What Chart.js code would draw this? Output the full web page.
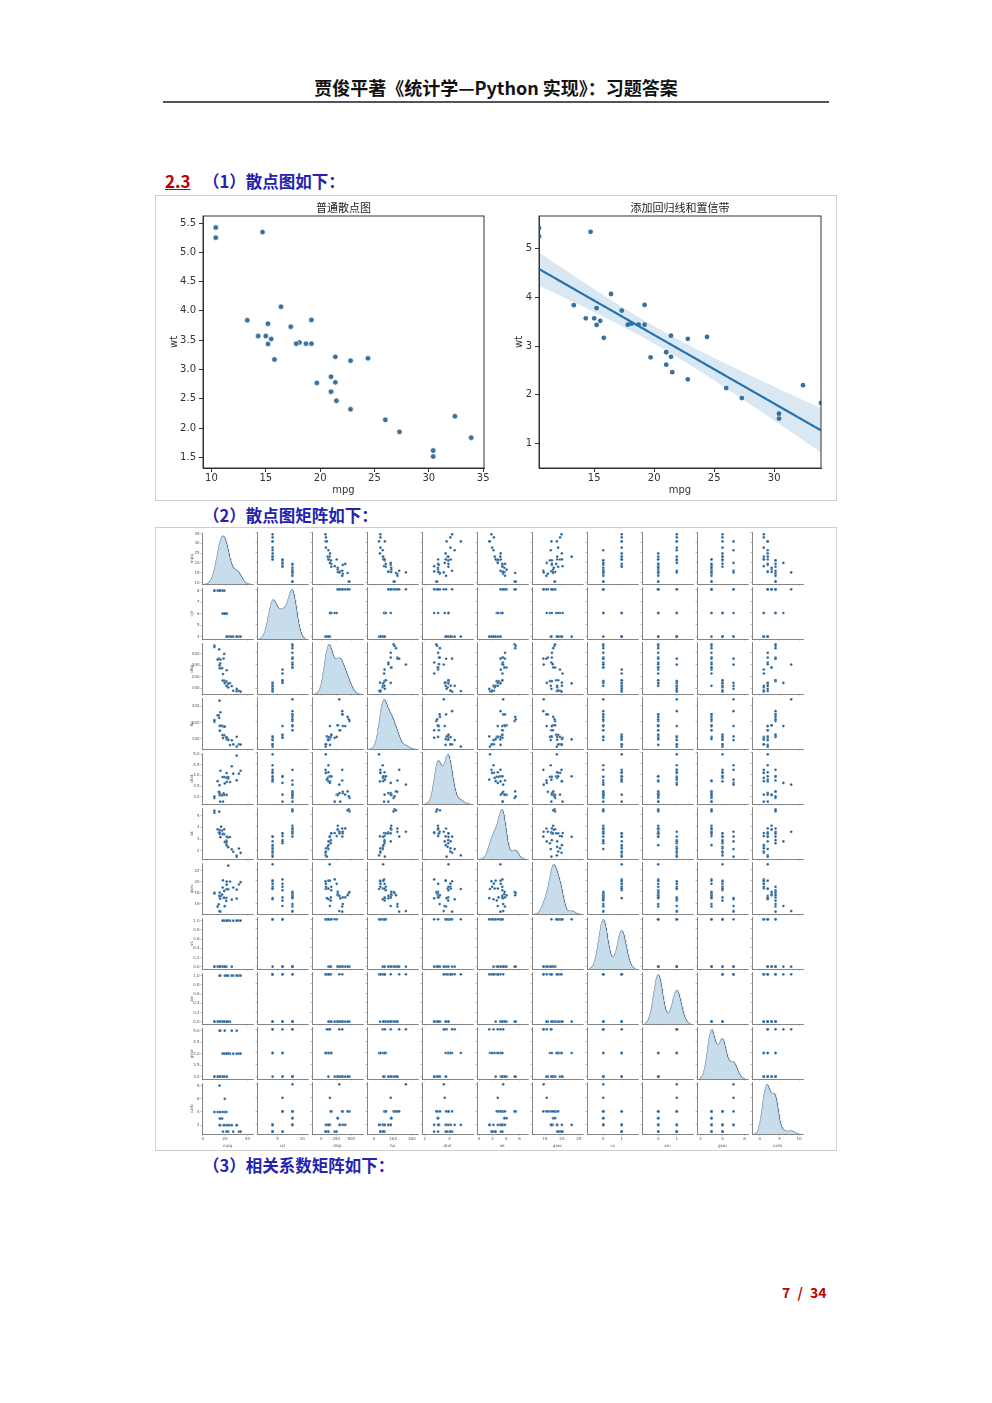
<!DOCTYPE html>
<html><head><meta charset="utf-8">
<script src="https://cdn.jsdelivr.net/npm/chart.js@4.4.0/dist/chart.umd.min.js"></script>
<style>
body{margin:0;background:#fff;}
#page{position:relative;width:992px;height:1403px;background:#fff;overflow:hidden;font-family:"Noto Sans CJK SC","Noto Sans",sans-serif;}
.t{position:absolute;white-space:nowrap;}
canvas{position:absolute;}
.box{position:absolute;border:1px solid #cfcfcf;box-sizing:border-box;}
</style></head><body><div id="page">
<div class="t" style="left:0;width:992px;top:75px;line-height:24px;text-align:center;font-weight:bold;font-size:18px;color:#111;">贾俊平著《统计学—Python 实现》：习题答案</div>
<div class="t" style="left:163px;top:101px;width:666px;height:2px;background:#555;"></div>
<div class="t" style="left:165px;top:169px;line-height:24px;font-weight:bold;font-size:17px;color:#c00000;text-decoration:underline;">2.3</div>
<div class="t" style="left:203px;top:169px;line-height:24px;font-weight:bold;font-size:16.5px;color:#2323b0;">（1）散点图如下：</div>
<div class="box" style="left:155px;top:195px;width:682px;height:306px;"></div>
<div class="t" style="left:203px;top:503px;line-height:24px;font-weight:bold;font-size:16.5px;color:#2323b0;">（2）散点图矩阵如下：</div>
<div class="box" style="left:155px;top:527px;width:682px;height:624px;"></div>
<div class="t" style="left:203px;top:1153px;line-height:24px;font-weight:bold;font-size:16.5px;color:#2323b0;">（3）相关系数矩阵如下：</div>
<div class="t" style="left:782px;top:1282px;line-height:20px;font-weight:bold;font-size:14px;color:#c00000;word-spacing:4px;">7 / 34</div>
</div>
<script>
// ---- mtcars data ----
const mpg=[21,21,22.8,21.4,18.7,18.1,14.3,24.4,22.8,19.2,17.8,16.4,17.3,15.2,10.4,10.4,14.7,32.4,30.4,33.9,21.5,15.5,15.2,13.3,19.2,27.3,26,30.4,15.8,19.7,15,21.4];
const cyl=[6,6,4,6,8,6,8,4,4,6,6,8,8,8,8,8,8,4,4,4,4,8,8,8,8,4,4,4,8,6,8,4];
const disp=[160,160,108,258,360,225,360,146.7,140.8,167.6,167.6,275.8,275.8,275.8,472,460,440,78.7,75.7,71.1,120.1,318,304,350,400,79,120.3,95.1,351,145,301,121];
const hp=[110,110,93,110,175,105,245,62,95,123,123,180,180,180,205,215,230,66,52,65,97,150,150,245,175,66,91,113,264,175,335,109];
const drat=[3.9,3.9,3.85,3.08,3.15,2.76,3.21,3.69,3.92,3.92,3.92,3.07,3.07,3.07,2.93,3,3.23,4.08,4.93,4.22,3.7,2.76,3.15,3.73,3.08,4.08,4.43,3.77,4.22,3.62,3.54,4.11];
const wt=[2.62,2.875,2.32,3.215,3.44,3.46,3.57,3.19,3.15,3.44,3.44,4.07,3.73,3.78,5.25,5.424,5.345,2.2,1.615,1.835,2.465,3.52,3.435,3.84,3.845,1.935,2.14,1.513,3.17,2.77,3.57,2.78];
const qsec=[16.46,17.02,18.61,19.44,17.02,20.22,15.84,20,22.9,18.3,18.9,17.4,17.6,18,17.98,17.82,17.42,19.47,18.52,19.9,20.01,16.87,17.3,15.41,17.05,18.9,16.7,16.9,14.5,15.5,14.6,18.6];
const vs=[0,0,1,1,0,1,0,1,1,1,1,0,0,0,0,0,0,1,1,1,1,0,0,0,0,1,0,1,0,0,0,1];
const am=[1,1,1,0,0,0,0,0,0,0,0,0,0,0,0,0,0,1,1,1,0,0,0,0,0,1,1,1,1,1,1,1];
const gear=[4,4,4,3,3,3,3,4,4,4,4,3,3,3,3,3,3,4,4,4,3,3,3,3,3,4,5,5,5,5,5,4];
const carb=[4,4,1,1,2,1,4,2,2,4,4,3,3,3,4,4,4,1,2,1,1,2,2,4,2,1,2,2,4,6,8,2];

const varNames=['mpg','cyl','disp','hp','drat','wt','qsec','vs','am','gear','carb'];
const rowTicks=[[10,15,20,25,30,35],[4,5,6,7,8],[100,200,300,400],[100,200,300],[3,3.5,4,4.5,5],[2,3,4,5],[16,18,20,22],[0,0.2,0.4,0.6,0.8,1],[0,0.2,0.4,0.6,0.8,1],[3,3.5,4,4.5,5],[2,4,6,8]];
const rowTickDecimals=[0,0,0,0,1,0,0,1,1,1,0];
const colTicks=[[0,20,40],[5,10],[0,250,500],[0,200,400],[2,4],[0,2,4,6],[15,20,25],[0,1],[0,1],[2,4,6],[0,5,10]];

const titleA='普通散点图';
const titleB='添加回归线和置信带';
const scatterXTicks=[10,15,20,25,30,35];
const scatterYTicks=[1.5,2,2.5,3,3.5,4,4.5,5,5.5];
const regXTicks=[15,20,25,30];
const regYTicks=[1,2,3,4,5];
const regYRange=[0.5,5.67];

// ---- helpers ----
Chart.defaults.font.family='"DejaVu Sans","Noto Sans",sans-serif';
Chart.defaults.animation=false;
const page=document.getElementById('page');
function mkCanvas(left,top,w,h){const c=document.createElement('canvas');c.width=w;c.height=h;c.style.left=left+'px';c.style.top=top+'px';c.style.width=w+'px';c.style.height=h+'px';page.appendChild(c);return c;}
const frame={id:'frame',afterDatasetsDraw(ch,a,o){if(!o.on)return;const {ctx,chartArea:ca}=ch;ctx.save();ctx.strokeStyle=o.color;ctx.lineWidth=o.width;ctx.strokeRect(ca.left,ca.top,ca.right-ca.left,ca.bottom-ca.top);ctx.restore();}};
Chart.register(frame);
function stats(a){const n=a.length,m=a.reduce((s,v)=>s+v,0)/n;const sd=Math.sqrt(a.reduce((s,v)=>s+(v-m)*(v-m),0)/(n-1));return {n,m,sd,min:Math.min(...a),max:Math.max(...a)};}
function kde(a){const s=stats(a);const bw=s.sd*Math.pow(s.n,-0.2);const lo=s.min-3*bw,hi=s.max+3*bw;const pts=[];let peak=0;
 for(let k=0;k<200;k++){const x=lo+(hi-lo)*k/199;let y=0;for(const v of a){const z=(x-v)/bw;y+=Math.exp(-0.5*z*z);}y/=s.n*bw*Math.sqrt(2*Math.PI);if(y>peak)peak=y;pts.push({x,y});}
 return {pts,lo,hi,peak};}
const withMargin=(lo,hi)=>{const r=hi-lo;return [lo-0.05*r,hi+0.05*r];};
// invisible right-hand spacer axis so that the title centres over the plot area
const spacer=w=>({type:'linear',position:'right',display:true,min:0,max:1,afterFit:s=>{s.width=w;},ticks:{display:false},grid:{display:false},border:{display:false}});

// ---- Figure 1a: plain scatter ----
(function(){
 const s1=stats(mpg),s2=stats(wt);
 const xr=withMargin(s1.min,s1.max),yr=withMargin(s2.min,s2.max);
 const L=45,W=281,H=252,TH=19,B=32;
 const c=mkCanvas(203-L,216-TH,W+2*L,TH+H+B);
 new Chart(c,{type:'scatter',data:{datasets:[{data:mpg.map((v,k)=>({x:v,y:wt[k]})),backgroundColor:'#36709e',borderColor:'#ffffff',borderWidth:0.6,pointRadius:2.7}]},
 options:{responsive:false,layout:{autoPadding:false,padding:0},
  plugins:{legend:{display:false},tooltip:{enabled:false},title:{display:true,text:titleA,color:'#222',font:{size:11,weight:'normal',family:'"Noto Sans CJK SC",sans-serif'},padding:{top:3.8,bottom:2}},frame:{on:true,color:'#333',width:1}},
  scales:{
   x:{type:'linear',min:xr[0],max:xr[1],afterBuildTicks:s=>{s.ticks=scatterXTicks.map(v=>({value:v}));},afterFit:s=>{s.height=B;},
      ticks:{color:'#333',font:{size:10},padding:0,maxRotation:0,autoSkip:false,callback:v=>String(v)},
      grid:{drawOnChartArea:false,drawTicks:true,tickLength:4,color:'#333'},border:{color:'#333'},
      title:{display:true,text:'mpg',color:'#333',font:{size:10},padding:{top:0,bottom:4}}},
   y:{type:'linear',min:yr[0],max:yr[1],afterBuildTicks:s=>{s.ticks=scatterYTicks.map(v=>({value:v}));},afterFit:s=>{s.width=L;},
      ticks:{color:'#333',font:{size:10},padding:3,autoSkip:false,callback:v=>v.toFixed(1)},
      grid:{drawOnChartArea:false,drawTicks:true,tickLength:4,color:'#333'},border:{color:'#333'},
      title:{display:true,text:'wt',color:'#333',font:{size:10},padding:{top:10,bottom:0}}},
   yr:spacer(L)}}});
})();

// ---- Figure 1b: regression line + CI band ----
(function(){
 const s1=stats(mpg),s2=stats(wt),n=s1.n;
 let sxy=0,sxx=0;for(let k=0;k<n;k++){sxy+=(mpg[k]-s1.m)*(wt[k]-s2.m);sxx+=(mpg[k]-s1.m)**2;}
 const b=sxy/sxx,a=s2.m-b*s1.m;
 let sse=0;for(let k=0;k<n;k++){sse+=(wt[k]-a-b*mpg[k])**2;}
 const se=Math.sqrt(sse/(n-2)),tq=2.042;
 const line=[],lo=[],hi=[];
 for(let k=0;k<100;k++){const x=s1.min+(s1.max-s1.min)*k/99;const y=a+b*x;const h=tq*se*Math.sqrt(1/n+(x-s1.m)**2/sxx);line.push({x,y});lo.push({x,y:y-h});hi.push({x,y:y+h});}
 const L=45,W=282,H=252,TH=19,B=32;
 const c=mkCanvas(539-L,216-TH,W+2*L,TH+H+B);
 new Chart(c,{type:'scatter',data:{datasets:[
   {type:'line',data:lo,borderWidth:0,pointRadius:0,fill:false,showLine:true,borderColor:'rgba(0,0,0,0)'},
   {type:'line',data:hi,borderWidth:0,pointRadius:0,fill:'-1',showLine:true,borderColor:'rgba(0,0,0,0)',backgroundColor:'rgba(31,119,180,0.17)'},
   {type:'line',data:line,borderWidth:2.2,pointRadius:0,fill:false,showLine:true,borderColor:'#2a72ad'},
   {data:mpg.map((v,k)=>({x:v,y:wt[k]})),backgroundColor:'#36709e',borderColor:'#36709e',borderWidth:0,pointRadius:2.4}]},
 options:{responsive:false,layout:{autoPadding:false,padding:0},
  plugins:{legend:{display:false},tooltip:{enabled:false},title:{display:true,text:titleB,color:'#222',font:{size:11,weight:'normal',family:'"Noto Sans CJK SC",sans-serif'},padding:{top:3.8,bottom:2}},frame:{on:true,color:'#333',width:1}},
  scales:{
   x:{type:'linear',min:s1.min,max:s1.max,afterBuildTicks:s=>{s.ticks=regXTicks.map(v=>({value:v}));},afterFit:s=>{s.height=B;},
      ticks:{color:'#333',font:{size:10},padding:0,maxRotation:0,autoSkip:false,callback:v=>String(v)},
      grid:{drawOnChartArea:false,drawTicks:true,tickLength:4,color:'#333'},border:{color:'#333'},
      title:{display:true,text:'mpg',color:'#333',font:{size:10},padding:{top:0,bottom:4}}},
   y:{type:'linear',min:regYRange[0],max:regYRange[1],afterBuildTicks:s=>{s.ticks=regYTicks.map(v=>({value:v}));},afterFit:s=>{s.width=L;},
      ticks:{color:'#333',font:{size:10},padding:3,autoSkip:false,callback:v=>String(v)},
      grid:{drawOnChartArea:false,drawTicks:true,tickLength:4,color:'#333'},border:{color:'#333'},
      title:{display:true,text:'wt',color:'#333',font:{size:10},padding:{top:19,bottom:0}}},
   yr:spacer(L)}}});
})();

// ---- Figure 2: pair plot ----
(function(){
 const vars=[mpg,cyl,disp,hp,drat,wt,qsec,vs,am,gear,carb];
 const kdes=vars.map(kde);
 const colRange=kdes.map(k=>withMargin(k.lo,k.hi));
 const rowRange=vars.map(v=>withMargin(Math.min(...v),Math.max(...v)));
 const PX0=202,PY0=532,STEP=55,CW=51,CH=52,L=15,T=2,R=3,B=16;
 const N=vars.length;
 for(let i=0;i<N;i++){for(let j=0;j<N;j++){
  const c=mkCanvas(PX0+STEP*j-L,PY0+STEP*i-T,L+CW+R,T+CH+B);
  let datasets;
  if(i===j){datasets=[{type:'line',data:kdes[i].pts,yAxisID:'yk',borderColor:'rgba(70,100,130,0.8)',borderWidth:0.6,pointRadius:0,fill:'origin',backgroundColor:'rgba(31,119,180,0.25)',showLine:true,tension:0}];}
  else{datasets=[{data:vars[j].map((v,k)=>({x:v,y:vars[i][k]})),backgroundColor:'#1f5f96',borderColor:'#ffffff',borderWidth:0.25,pointRadius:1.35}];}
  const scales={
   x:{type:'linear',min:colRange[j][0],max:colRange[j][1],afterBuildTicks:s=>{s.ticks=colTicks[j].map(v=>({value:v}));},afterFit:s=>{s.height=B;},
      ticks:{display:i===N-1,color:'#555',font:{size:4},padding:1,maxRotation:0,autoSkip:false,callback:v=>String(v)},
      grid:{drawOnChartArea:false,drawTicks:true,tickLength:1.5,color:'#777',lineWidth:0.5},border:{color:'#666',width:0.8},
      title:{display:i===N-1,text:varNames[j],color:'#555',font:{size:4},padding:{top:0,bottom:2}}},
   y:{type:'linear',min:rowRange[i][0],max:rowRange[i][1],afterBuildTicks:s=>{s.ticks=rowTicks[i].map(v=>({value:v}));},afterFit:s=>{s.width=L;},
      ticks:{display:j===0,color:'#555',font:{size:4},padding:1,autoSkip:false,callback:v=>v.toFixed(rowTickDecimals[i])},
      grid:{drawOnChartArea:false,drawTicks:true,tickLength:1.5,color:'#777',lineWidth:0.5},border:{color:'#666',width:0.8},
      title:{display:j===0,text:varNames[i],color:'#555',font:{size:4},padding:{top:3,bottom:0}}}};
  if(i===j){scales.yk={type:'linear',display:false,min:0,max:kdes[i].peak*1.05};}
  new Chart(c,{type:'scatter',data:{datasets},options:{responsive:false,layout:{autoPadding:false,padding:{left:0,right:R,top:T,bottom:0}},
    plugins:{legend:{display:false},tooltip:{enabled:false},title:{display:false},frame:{on:false}},scales}});
 }}
})();
</script>
</body></html>
